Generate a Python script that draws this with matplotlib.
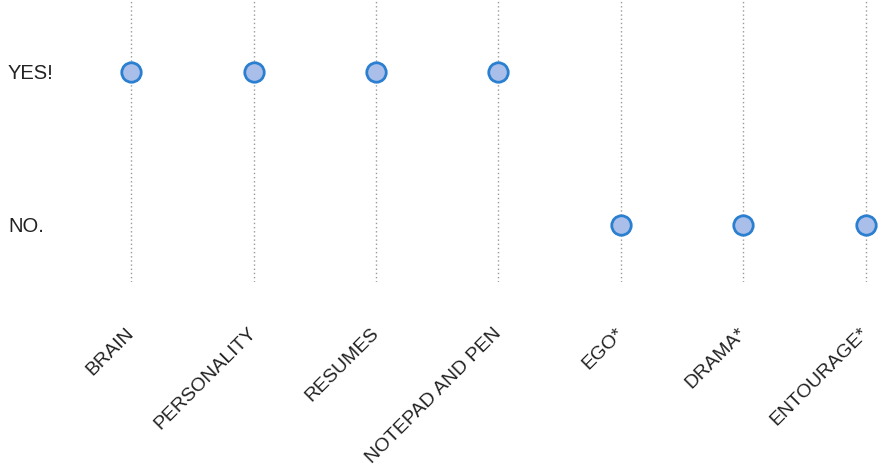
import matplotlib
matplotlib.use("Agg")
import matplotlib.pyplot as plt

# Data
items = ["BRAIN", "PERSONALITY", "RESUMES", "NOTEPAD AND PEN", "EGO*", "DRAMA*", "ENTOURAGE*"]
answer = [1, 1, 1, 1, 0, 0, 0]
answer_labels = ["NO.", "YES!"]

plt.rcParams["font.family"] = ["Liberation Sans", "DejaVu Sans"]

fig = plt.figure(figsize=(8.83, 4.66), dpi=100)
ax = fig.add_axes([95 / 883, 1 - 282 / 466, 788 / 883, 282 / 466])

x = list(range(len(items)))
ax.plot(x, answer, linestyle="none", marker="o", markersize=14,
        markerfacecolor="#a9bfe9", markeredgecolor="#2b7fd0",
        markeredgewidth=2, zorder=3)

ax.set_xlim(-0.294, 6.139)
ax.set_ylim(-0.373, 1.47)

ax.set_xticks(x)
ax.set_xticklabels(items, rotation=45, ha="right", va="center",
                   rotation_mode="anchor", fontsize=14, color="#222222")
ax.set_yticks([0, 1])
ax.set_yticklabels(answer_labels, fontsize=14.5, color="#222222")
for lab in ax.get_yticklabels():
    lab.set_ha("left")

ax.tick_params(axis="x", length=0, pad=35)
ax.tick_params(axis="y", length=0, pad=62.6)

ax.grid(axis="x", linestyle=(0, (1, 2)), color="#999999", linewidth=1)
ax.set_axisbelow(True)
for s in ax.spines.values():
    s.set_visible(False)

fig.savefig("out.png", dpi=100)
